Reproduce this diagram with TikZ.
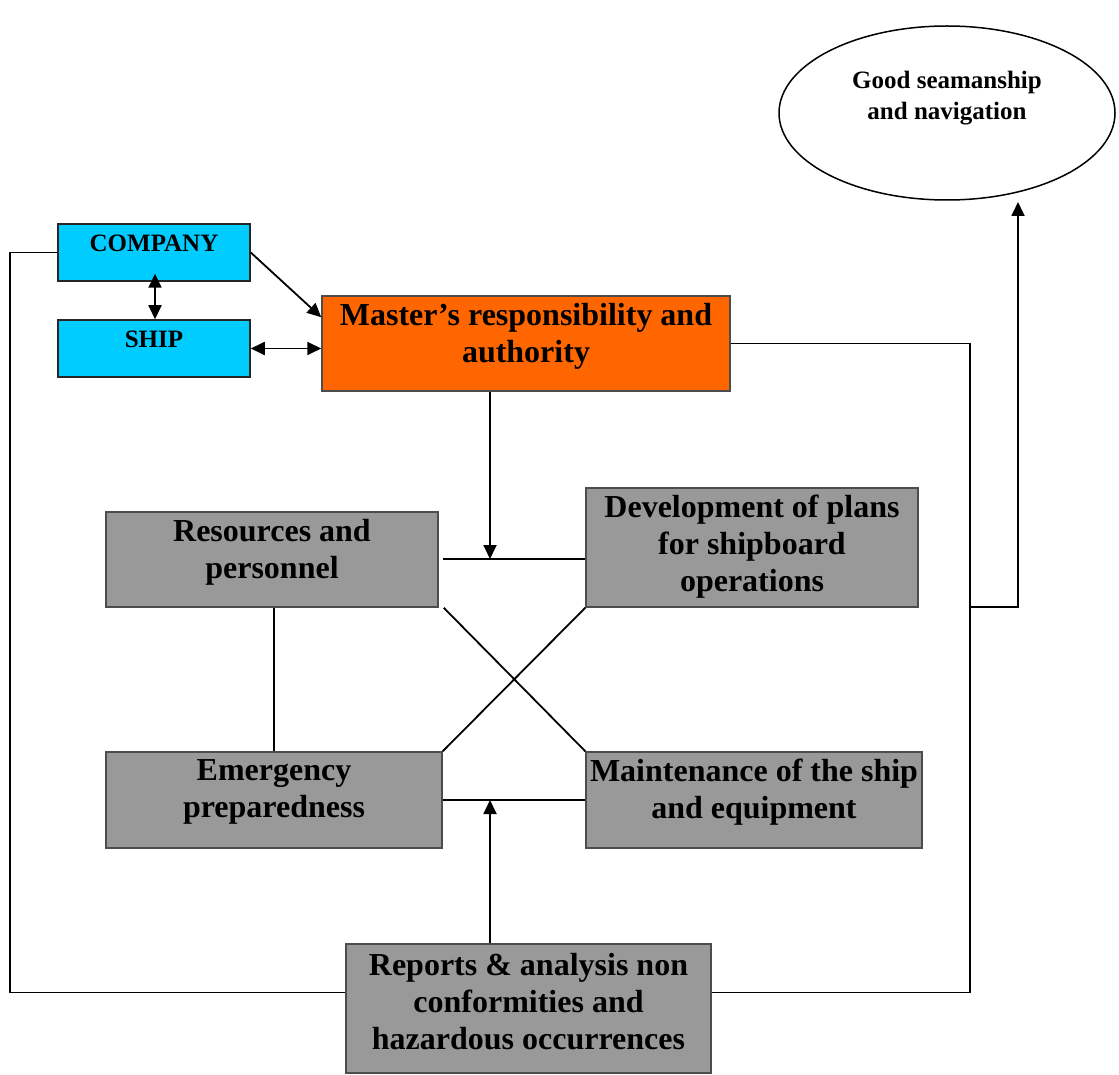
\documentclass[tikz,border=0pt]{standalone}
\usepackage{fontspec}
\setmainfont{Liberation Serif}
\usetikzlibrary{arrows.meta,shapes.geometric,calc}

\definecolor{shipblue}{HTML}{00CCFF}
\definecolor{masterorange}{HTML}{FF6600}
\definecolor{taskgray}{HTML}{999999}

\begin{document}
\begin{tikzpicture}[x=1pt, y=-1pt,
  box/.style={draw=black!70, line width=1.5pt, align=center, inner sep=0pt, font=\bfseries\fontsize{32}{37}\selectfont, text depth=22pt},
  org/.style={box, fill=shipblue, draw=black!85, minimum width=192pt, minimum height=57pt, font=\bfseries\fontsize{25}{30}\selectfont, text depth=18pt},
  task/.style={box, fill=taskgray, minimum width=332pt, minimum height=95pt},
  goal/.style={ellipse, draw=black, line width=1.5pt, inner sep=0pt, minimum width=336pt, minimum height=174pt, align=center, font=\bfseries\fontsize{25}{31}\selectfont, text depth=36pt},
  ln/.style={line width=1.8pt},
  arr/.style={ln, -{Triangle[length=14pt,width=13pt]}},
  darr/.style={ln, {Triangle[length=14pt,width=13pt]}-{Triangle[length=14pt,width=13pt]}}
]
\useasboundingbox (0,0) rectangle (1119,1075);
% top: company, ship, master
\node[org] (company) at (154,252.5) {COMPANY};
\node[org] (ship) at (154,348.5) {SHIP};
\node[box, fill=masterorange, minimum width=408pt, minimum height=95pt] (master) at (526,343.5) {Master's responsibility and\\authority};
\node[goal] (goal) at (947,113) {Good seamanship\\and navigation};
% the four tasks
\node[task] (res) at (272,559.5) {Resources and\\personnel};
\node[task, minimum height=119pt, text depth=8pt] (dev) at (752,547.5) {Development of plans\\for shipboard\\operations};
\node[task, minimum width=336pt, minimum height=96pt] (emg) at (274,800) {Emergency\\preparedness};
\node[task, minimum width=336pt, minimum height=96pt] (mnt) at (754,800) {Maintenance of the ship\\and equipment};
\node[task, minimum width=365pt, minimum height=129pt, text depth=15pt] (rep) at (528.5,1008.5) {Reports \& analysis non\\conformities and\\hazardous occurrences};
% junctions
\coordinate (jt) at (490,559);
\coordinate (jb) at (490,800);
\coordinate (rx) at (970,607);
\coordinate (gin) at (1018,202);
% links
\draw[darr] ($(company.south)+(1,-8)$) -- (ship.north -| 155,0);
\draw[arr] (company.east) -- ($(master.north west)+(0,22)$);
\draw[darr] (ship.east) -- (ship.east -| master.west);
\draw[ln] (443,559) -- (jt -| dev.west);
\draw[arr] (master.south -| jt) -- (jt);
\draw[ln] (443,800) -- (jb -| mnt.west);
\draw[arr] (rep.north -| jb) -- (jb);
\draw[ln] (res.south -| emg.north) -- (emg.north);
\draw[ln] ($(res.south east)+(5,0)$) -- (mnt.north west);
\draw[ln] (emg.north east) -- (dev.south west);
% feedback loops
\draw[ln] (company.west) -- (10,252.5) |- ($(rep.west)+(0,-16)$);
\draw[ln] (master.east) -| (rx) |- ($(rep.east)+(0,-16)$);
\draw[arr] (rx) -- (rx -| gin) -- (gin);
\end{tikzpicture}
\end{document}
